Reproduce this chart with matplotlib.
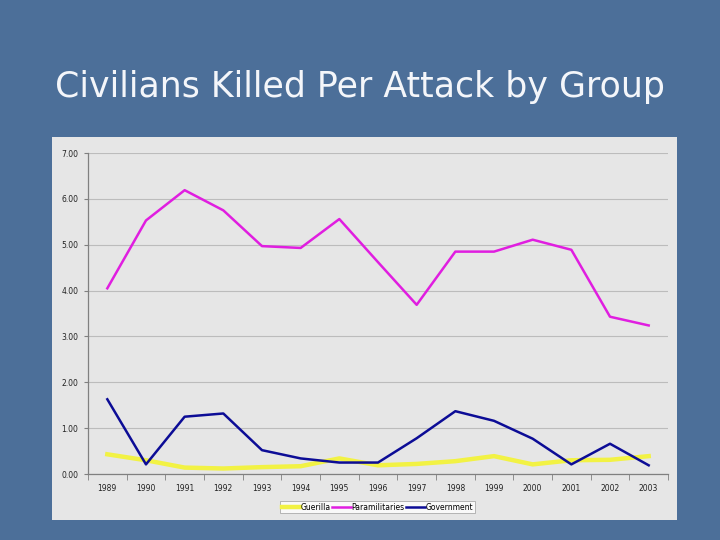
import numpy as np
import matplotlib
matplotlib.use("Agg")
import matplotlib.pyplot as plt

# Dados
years = ["1989", "1990", "1991", "1992", "1993", "1994", "1995", "1996",
         "1997", "1998", "1999", "2000", "2001", "2002", "2003"]
guerilla = [0.43, 0.30, 0.14, 0.12, 0.15, 0.17, 0.34, 0.19,
            0.22, 0.28, 0.39, 0.21, 0.30, 0.31, 0.39]
paramilitaries = [4.05, 5.53, 6.19, 5.75, 4.97, 4.93, 5.56, 4.62,
                  3.69, 4.85, 4.85, 5.11, 4.89, 3.43, 3.24]
government = [1.63, 0.21, 1.25, 1.32, 0.52, 0.34, 0.25, 0.25,
              0.78, 1.37, 1.16, 0.77, 0.21, 0.66, 0.19]
y_ticks = [0, 1, 2, 3, 4, 5, 6, 7]

# Figura (fundo azul do slide)
fig = plt.figure(figsize=(7.2, 5.4), dpi=100)
fig.patch.set_facecolor("#4c6f99")

fig.text(0.5, 0.838, "Civilians Killed Per Attack by Group",
         ha="center", va="center", color="#f4f6fa", fontsize=25,
         family="DejaVu Sans")

# Painel cinza
panel = fig.add_axes([0.0722, 0.037, 0.868, 0.709])
panel.set_facecolor("#e6e6e6")
panel.set_xticks([])
panel.set_yticks([])
for s in panel.spines.values():
    s.set_visible(False)

ax = fig.add_axes([0.1222, 0.1222, 0.8056, 0.5944])
ax.set_facecolor("#e6e6e6")

x = np.arange(len(years))
ax.plot(x, guerilla, color="#f2f244", lw=3.2, label="Guerilla",
        solid_joinstyle="round", zorder=3)
ax.plot(x, paramilitaries, color="#e01ee0", lw=1.8, label="Paramilitaries", zorder=4)
ax.plot(x, government, color="#0c0c96", lw=1.8, label="Government", zorder=5)

ax.set_xlim(-0.5, len(years) - 0.5)
ax.set_ylim(0, 7)
ax.set_yticks(y_ticks)
ax.set_yticklabels([f"{v:.2f}" for v in y_ticks])
ax.set_xticks(x)
ax.set_xticklabels(years)
ax.set_xticks(np.arange(len(years) + 1) - 0.5, minor=True)
ax.tick_params(axis="x", which="major", length=0, pad=7,
               labelsize=5.5, labelcolor="#222222")
ax.tick_params(axis="x", which="minor", length=4, direction="out", color="#808080")
ax.tick_params(axis="y", length=3, direction="out", color="#808080",
               labelsize=5.5, labelcolor="#222222", pad=4)

ax.grid(True, axis="y", color="#bcbcbc", lw=0.8, zorder=1)
ax.set_axisbelow(True)
for s in ["top", "right"]:
    ax.spines[s].set_visible(False)
for s in ["left", "bottom"]:
    ax.spines[s].set_color("#808080")
    ax.spines[s].set_linewidth(0.9)

leg = fig.legend(loc="center", bbox_to_anchor=(0.524, 0.061), ncol=3,
                 fontsize=5.5, frameon=True, fancybox=False, borderpad=0.25,
                 handlelength=2.4, handletextpad=0.1, columnspacing=0.2,
                 edgecolor="#999999")
leg.get_frame().set_linewidth(0.6)

fig.savefig("out.png", dpi=100, facecolor=fig.get_facecolor())
